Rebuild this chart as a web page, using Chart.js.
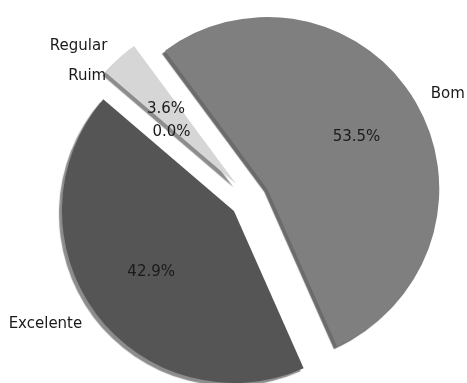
<!DOCTYPE html>
<html>
<head>
<meta charset="utf-8">
<script src="https://cdn.jsdelivr.net/npm/chart.js@4/dist/chart.umd.min.js"></script>
<style>
    body { margin: 0; background: #fff; }
    #wrap { width: 467px; height: 383px; position: relative; }
</style>
</head>
<body>
<div id="wrap"><canvas id="pieChart"></canvas></div>
<script>
// Avaliações por categoria (percentuais)
const categorias = ['Bom', 'Excelente', 'Ruim', 'Regular'];
const percentuais = [53.5, 42.9, 0.0, 3.6];
const cores = ['#7f7f7f', '#555555', '#8c8c8c', '#d6d6d6'];
const sombras = ['rgba(0, 0, 0, 0.58)', 'rgba(0, 0, 0, 0.45)', 'rgba(0, 0, 0, 0.45)', 'rgba(0, 0, 0, 0.45)'];

// how far each slice is pulled out of the pie, in pixels
const afastamento = [20, 20, 0, 20];
const RAIO = 172;

// draws the arcs shifted outwards with a drop shadow, then the labels
const explodePlugin = {
    id: 'explodePie',
    beforeDatasetDraw(chart, args) {
        const ctx = chart.ctx;
        const meta = args.meta;
        meta.data.forEach((arc, i) => {
            const p = arc.getProps(['startAngle', 'endAngle']);
            const mid = (p.startAngle + p.endAngle) / 2;
            ctx.save();
            ctx.translate(Math.cos(mid) * afastamento[i], Math.sin(mid) * afastamento[i]);
            ctx.shadowColor = sombras[i];
            ctx.shadowOffsetX = -3;
            ctx.shadowOffsetY = 3;
            ctx.shadowBlur = 1;
            arc.draw(ctx);
            ctx.restore();
        });
        return false;
    },
    afterDatasetsDraw(chart) {
        const ctx = chart.ctx;
        const meta = chart.getDatasetMeta(0);
        ctx.save();
        ctx.font = '15px "DejaVu Sans", sans-serif';
        ctx.fillStyle = '#1a1a1a';
        ctx.textBaseline = 'middle';
        meta.data.forEach((arc, i) => {
            const p = arc.getProps(['x', 'y', 'startAngle', 'endAngle', 'outerRadius']);
            const mid = (p.startAngle + p.endAngle) / 2;
            const cx = p.x + Math.cos(mid) * afastamento[i];
            const cy = p.y + Math.sin(mid) * afastamento[i];
            const r = p.outerRadius;

            ctx.textAlign = Math.cos(mid) >= 0 ? 'left' : 'right';
            ctx.fillText(categorias[i], cx + Math.cos(mid) * r * 1.1, cy + Math.sin(mid) * r * 1.1);

            ctx.textAlign = 'center';
            ctx.fillText(percentuais[i].toFixed(1) + '%', cx + Math.cos(mid) * r * 0.6, cy + Math.sin(mid) * r * 0.6);
        });
        ctx.restore();
    }
};

const ctx = document.getElementById('pieChart').getContext('2d');
const pieChart = new Chart(ctx, {
    type: 'pie',
    data: {
        labels: categorias,
        datasets: [{
            data: percentuais,
            backgroundColor: cores,
            borderWidth: 0,
            clip: false
        }]
    },
    options: {
        responsive: true,
        maintainAspectRatio: false,
        animation: false,
        events: [],
        rotation: -36.5,
        radius: RAIO,
        layout: {
            padding: { left: 33, right: 0, top: 15, bottom: 0 }
        },
        plugins: {
            legend: { display: false },
            tooltip: { enabled: false }
        }
    },
    plugins: [explodePlugin]
});
</script>
</body>
</html>
